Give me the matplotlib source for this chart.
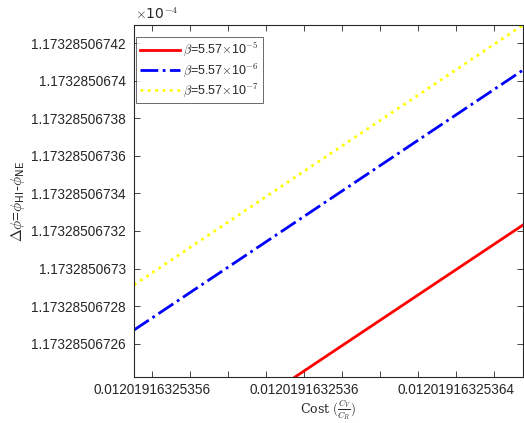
import matplotlib
matplotlib.use('Agg')
import matplotlib.pyplot as plt
from matplotlib.ticker import FixedLocator, FixedFormatter

plt.rcParams['font.family'] = ['Liberation Sans', 'DejaVu Sans']
plt.rcParams['mathtext.fontset'] = 'cm'

# x in units of 1e-14 above 0.01201916325356, y in units of 1e-11 (x1e-4) above 1.173285067
x_left, x_right = -0.474, 9.763
x_red = [3.763, 9.763]
y_red = [24.23, 32.32]
x_blue = [-0.474, 9.763]
y_blue = [26.73, 40.56]
x_yellow = [-0.474, 9.763]
y_yellow = [29.13, 42.96]

labels = [r'$\beta$=5.57$\times$10$^{-5}$',
          r'$\beta$=5.57$\times$10$^{-6}$',
          r'$\beta$=5.57$\times$10$^{-7}$']

x_ticks = list(range(0, 10))
x_ticklabels = ['0.01201916325356', '', '', '', '0.0120191632536', '', '', '',
                '0.01201916325364', '']
y_ticks = [26, 28, 30, 32, 34, 36, 38, 40, 42]
y_ticklabels = ['1.17328506726', '1.17328506728', '1.1732850673', '1.17328506732',
                '1.17328506734', '1.17328506736', '1.17328506738', '1.1732850674',
                '1.17328506742']
y_bottom, y_top = 24.23, 42.96

txt = '#262626'
fig = plt.figure(figsize=(5.24, 4.23), dpi=100)
ax = fig.add_axes([0.2557, 0.1087, 0.7424, 0.8322])

ax.plot(x_red, y_red, '-', color='red', lw=2, label=labels[0])
ax.plot(x_blue, y_blue, '-.', color='blue', lw=2, label=labels[1])
ax.plot(x_yellow, y_yellow, ':', color='yellow', lw=2, label=labels[2])

ax.set_xlim(x_left, x_right)
ax.set_ylim(y_bottom, y_top)
ax.xaxis.set_major_locator(FixedLocator(x_ticks))
ax.xaxis.set_major_formatter(FixedFormatter(x_ticklabels))
ax.yaxis.set_major_locator(FixedLocator(y_ticks))
ax.yaxis.set_major_formatter(FixedFormatter(y_ticklabels))
ax.tick_params(direction='in', length=4, width=0.6, colors=txt, labelsize=9.8,
               top=True, right=True, pad=6)
ax.tick_params(axis='x', pad=4.5)
for s in ax.spines.values():
    s.set_color(txt)
    s.set_linewidth(0.8)

ax.text(0.003, 1.008, r'$\times$10$^{-4}$', transform=ax.transAxes, fontsize=10,
        color=txt, ha='left', va='bottom', family='DejaVu Sans')
ax.set_xlabel(r'Cost $(\frac{C_V}{C_R})$', fontsize=9, color=txt, family='serif',
              labelpad=0)
ax.set_ylabel(r'$\Delta\phi$=$\phi_{\mathsf{HI}}$-$\phi_{\mathsf{NE}}$', fontsize=11,
              color=txt, labelpad=3)

leg = ax.legend(loc='upper left', bbox_to_anchor=(0.005, 0.965), fontsize=9,
                handlelength=3.2, handletextpad=0.3, labelspacing=0.2,
                borderpad=0.3, frameon=True, fancybox=False, borderaxespad=0)
leg.get_frame().set_edgecolor(txt)
leg.get_frame().set_linewidth(0.6)
for t in leg.get_texts():
    t.set_color(txt)

fig.savefig('out.png', dpi=100)
